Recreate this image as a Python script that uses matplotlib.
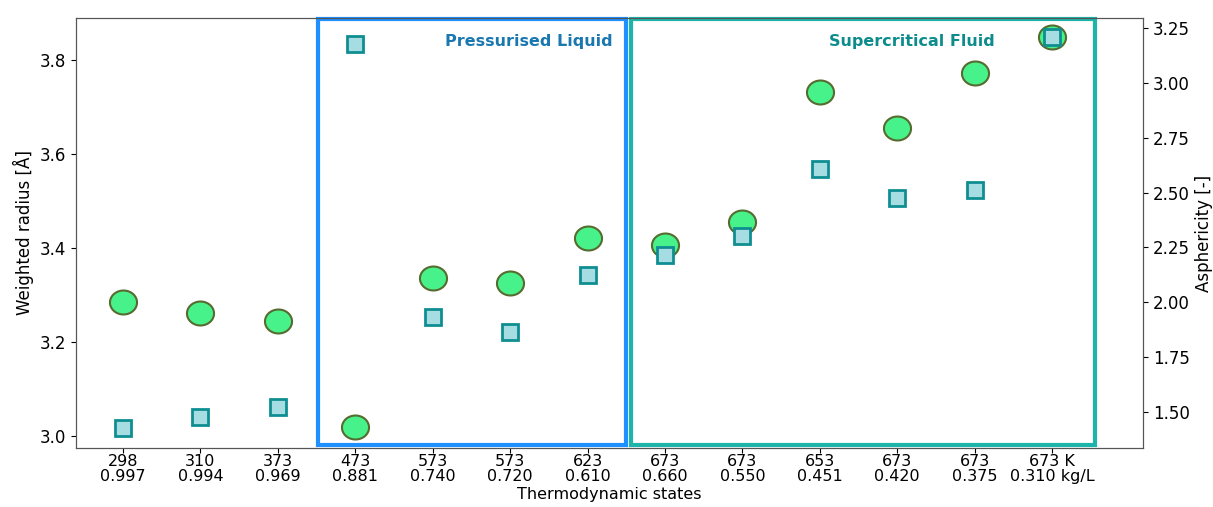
import numpy as np
import matplotlib.pyplot as plt
from matplotlib.path import Path
from matplotlib.patches import Rectangle
import matplotlib.transforms as mtransforms

# thermodynamic states (temperature K, density kg/L)
temps = ["298", "310", "373", "473", "573", "573", "623", "673", "673", "653", "673", "673", "673 K"]
dens = ["0.997", "0.994", "0.969", "0.881", "0.740", "0.720", "0.610", "0.660", "0.550", "0.451", "0.420", "0.375", "0.310 kg/L"]

# weighted radius [A] (circles, left axis)
radius = [3.285, 3.262, 3.245, 3.019, 3.336, 3.326, 3.421, 3.406, 3.455, 3.732, 3.655, 3.772, 3.849]
# asphericity [-] (squares, right axis)
aspher = [1.427, 1.477, 1.523, 3.177, 1.933, 1.865, 2.124, 2.216, 2.302, 2.608, 2.475, 2.512, 3.209]

x = np.arange(len(temps))
labels = [t + "\n" + d for t, d in zip(temps, dens)]

# slightly wide ellipse marker, like the stretched circles in the original
th = np.linspace(0, 2 * np.pi, 60)
ell = Path(np.column_stack([1.13 * np.cos(th), np.sin(th)]), closed=True)

fig = plt.figure(figsize=(12.13, 5.07), dpi=100)
ax = fig.add_axes([0.0627, 0.1164, 0.8796, 0.8481])
ax2 = ax.twinx()

ax.plot(x, radius, ls="none", marker=ell, ms=19.5, mfc="#48F28A", mec="#556B2F", mew=1.5)
ax2.plot(x, aspher, ls="none", marker="s", ms=11.5, mfc="#A6DDE2", mec="#0F8E92", mew=2)

ax.set_xlim(-0.607, 13.175)
ax.set_ylim(2.9745, 3.889)
ax2.set_ylim(1.336, 3.296)

ax.set_xticks(x)
ax.set_xticklabels(labels, fontsize=11.5, linespacing=1.05)
ax.tick_params(axis="x", pad=0.5)
ax.set_yticks([3.0, 3.2, 3.4, 3.6, 3.8])
ax.tick_params(axis="y", labelsize=12)
ax2.set_yticks([1.5, 1.75, 2.0, 2.25, 2.5, 2.75, 3.0, 3.25])
ax2.tick_params(labelsize=12)

ax.set_xlabel("Thermodynamic states", fontsize=11.5, va="center")
ax.xaxis.set_label_coords(0.5, -0.108)
ax.set_ylabel("Weighted radius [Å]", fontsize=12)
ax2.set_ylabel("Asphericity [-]", fontsize=12)

for a in (ax, ax2):
    for s in a.spines.values():
        s.set_color("#555555")

# region boxes
trans = mtransforms.blended_transform_factory(ax.transData, ax.transAxes)
ax.add_patch(Rectangle((2.52, 0.006), 3.98, 0.991, transform=trans, fill=False,
                       ec="#1E90FF", lw=3, clip_on=False, zorder=1))
ax.add_patch(Rectangle((6.56, 0.006), 5.99, 0.991, transform=trans, fill=False,
                       ec="#1DB5AA", lw=3, clip_on=False, zorder=1))

ax.text(6.33, 0.945, "Pressurised Liquid", transform=trans, ha="right", va="center",
        fontsize=11.5, fontweight="bold", color="#1A78B0")
ax.text(11.26, 0.945, "Supercritical Fluid", transform=trans, ha="right", va="center",
        fontsize=11.5, fontweight="bold", color="#0C8C8C")

fig.savefig("out.png", dpi=100)
